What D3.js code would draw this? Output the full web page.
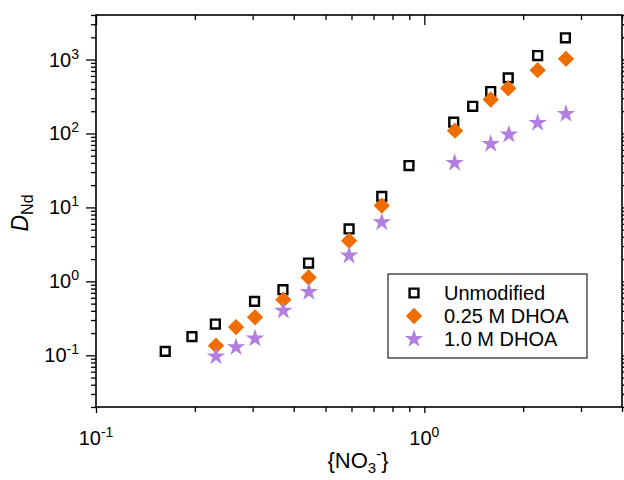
<!DOCTYPE html>
<html lang="en">
<head>
<meta charset="UTF-8">
<title>D_Nd vs nitrate</title>
<style>
  body { margin: 0; background: #fff; }
  svg text { font-family: "Liberation Sans", Arial, sans-serif; fill: #000; }
</style>
<script src="https://cdn.jsdelivr.net/npm/d3@7/dist/d3.min.js"></script>
</head>
<body>
<script>
// values
const unmodX = [0.1625, 0.196, 0.231, 0.304, 0.371, 0.444, 0.590, 0.742, 0.898, 1.229, 1.404, 1.593, 1.801, 2.214, 2.690]
const unmodD = [0.113, 0.179, 0.265, 0.536, 0.772, 1.77, 5.12, 14.1, 36.8, 142, 233, 369, 565, 1133, 1966]
const dhoa025X = [0.232, 0.267, 0.305, 0.372, 0.444, 0.590, 0.742, 1.240, 1.593, 1.801, 2.214, 2.700]
const dhoa025D = [0.135, 0.241, 0.326, 0.565, 1.13, 3.55, 10.6, 109, 288, 409, 717, 1022]
const dhoa10X = [0.232, 0.267, 0.305, 0.372, 0.445, 0.590, 0.742, 1.237, 1.593, 1.810, 2.214, 2.700]
const dhoa10D = [0.0966, 0.129, 0.169, 0.402, 0.719, 2.23, 6.28, 40.0, 72.3, 96.6, 139, 184]
const seriesNames = ['Unmodified', '0.25 M DHOA', '1.0 M DHOA']
const xMajor = [-1, 0]          // exponents of labelled x ticks
const yMajor = [-1, 0, 1, 2, 3] // exponents of labelled y ticks

const width = 624, height = 480
const margin = { top: 15, right: 2, bottom: 73, left: 96 }
const orange = '#ef6c00', purple = '#b27ee0'

const svg = d3.select('body').append('svg').attr('width', width).attr('height', height)

const x = d3.scaleLog().domain([0.1, 4]).range([margin.left, width - margin.right])
const y = d3.scaleLog().domain([0.02, 4000]).range([height - margin.bottom, margin.top])

// minor ticks: 2..9 x 10^k inside domain
function minors(scale) {
  const [a, b] = scale.domain()
  const out = []
  for (let k = -3; k <= 4; k++) {
    for (let m = 2; m <= 9; m++) {
      const v = m * Math.pow(10, k)
      if (v >= a * 0.999 && v <= b * 1.001) out.push(v)
    }
  }
  return out
}
const xMin = minors(x), yMin = minors(y)
const xMaj = xMajor.map(e => Math.pow(10, e))
const yMaj = yMajor.map(e => Math.pow(10, e))

const x0 = margin.left, x1 = width - margin.right
const y0 = height - margin.bottom, y1 = margin.top

function drawAxis(axis, tf) {
  const g = svg.append('g').attr('transform', tf).call(axis)
  g.select('.domain').remove()
  g.selectAll('line').attr('stroke', '#000').attr('stroke-width', 1.3)
  return g
}
// bottom (outward), top (inward)
drawAxis(d3.axisBottom(x).tickValues(xMin).tickSize(5).tickFormat(''), `translate(0,${y0})`)
drawAxis(d3.axisBottom(x).tickValues(xMaj).tickSize(6).tickFormat(''), `translate(0,${y0})`)
drawAxis(d3.axisTop(x).tickValues(xMin).tickSize(-5).tickFormat(''), `translate(0,${y1})`)
drawAxis(d3.axisTop(x).tickValues(xMaj).tickSize(-10).tickFormat(''), `translate(0,${y1})`)
// left and right (outward)
drawAxis(d3.axisLeft(y).tickValues(yMin).tickSize(5).tickFormat(''), `translate(${x0},0)`)
drawAxis(d3.axisLeft(y).tickValues(yMaj).tickSize(10).tickFormat(''), `translate(${x0},0)`)
drawAxis(d3.axisRight(y).tickValues(yMin).tickSize(5).tickFormat(''), `translate(${x1},0)`)
drawAxis(d3.axisRight(y).tickValues(yMaj).tickSize(10).tickFormat(''), `translate(${x1},0)`)

// frame
svg.append('rect')
  .attr('x', x0).attr('y', y1).attr('width', x1 - x0).attr('height', y0 - y1)
  .attr('fill', 'none').attr('stroke', '#000').attr('stroke-width', 1.6)

// power-of-ten labels
function powLabel(sel) {
  sel.append('tspan').text('10')
  sel.append('tspan').attr('dy', -8).attr('font-size', 14).text(d => d)
}
svg.append('g').selectAll('text').data(xMajor).join('text')
  .attr('x', d => x(Math.pow(10, d))).attr('y', 445)
  .attr('text-anchor', 'middle').attr('font-size', 20)
  .call(powLabel)
svg.append('g').selectAll('text').data(yMajor).join('text')
  .attr('x', 79).attr('y', d => y(Math.pow(10, d)) + 7)
  .attr('text-anchor', 'end').attr('font-size', 20)
  .call(powLabel)

// axis titles
const xt = svg.append('text').attr('x', 358).attr('y', 468)
  .attr('text-anchor', 'middle').attr('font-size', 22)
xt.append('tspan').text('{NO')
xt.append('tspan').attr('dy', 5).attr('font-size', 15).text('3')
xt.append('tspan').attr('dy', -14).attr('font-size', 15).text('-')
xt.append('tspan').attr('dy', 9).text('}')

const yt = svg.append('text').attr('transform', 'translate(28,213) rotate(-90)')
  .attr('text-anchor', 'middle').attr('font-size', 23)
yt.append('tspan').attr('font-style', 'italic').text('D')
yt.append('tspan').attr('dy', 5).attr('font-size', 16).text('Nd')

// markers
const squarePath = d3.symbol().type(d3.symbolSquare).size(78)
const diamondPath = d3.symbol().type(d3.symbolDiamond2).size(170)
const starPath = d3.symbol().type(d3.symbolStar).size(105)

const plot = svg.append('g')
plot.selectAll('.sq').data(d3.zip(unmodX, unmodD)).join('path').attr('class', 'sq')
  .attr('d', squarePath)
  .attr('transform', d => `translate(${x(d[0])},${y(d[1])})`)
  .attr('fill', 'none').attr('stroke', '#000').attr('stroke-width', 2.4)
plot.selectAll('.di').data(d3.zip(dhoa025X, dhoa025D)).join('path').attr('class', 'di')
  .attr('d', diamondPath)
  .attr('transform', d => `translate(${x(d[0])},${y(d[1])})`)
  .attr('fill', orange)
plot.selectAll('.st').data(d3.zip(dhoa10X, dhoa10D)).join('path').attr('class', 'st')
  .attr('d', starPath)
  .attr('transform', d => `translate(${x(d[0])},${y(d[1])})`)
  .attr('fill', purple)

// legend
const lg = svg.append('g')
lg.append('rect').attr('x', 388).attr('y', 274).attr('width', 199).attr('height', 84)
  .attr('fill', '#fff').attr('stroke', '#222').attr('stroke-width', 1.2)
const rowY = [293, 316, 339]
const legendStyles = [
  { d: squarePath(), fill: 'none', stroke: '#000' },
  { d: diamondPath(), fill: orange, stroke: 'none' },
  { d: starPath(), fill: purple, stroke: 'none' }
]
seriesNames.forEach((name, i) => {
  const s = legendStyles[i]
  lg.append('path').attr('d', s.d).attr('transform', `translate(414,${rowY[i]})`)
    .attr('fill', s.fill).attr('stroke', s.stroke).attr('stroke-width', 2.4)
  lg.append('text').attr('x', 444).attr('y', rowY[i] + 7).attr('font-size', 20).text(name)
})
</script>
</body>
</html>
